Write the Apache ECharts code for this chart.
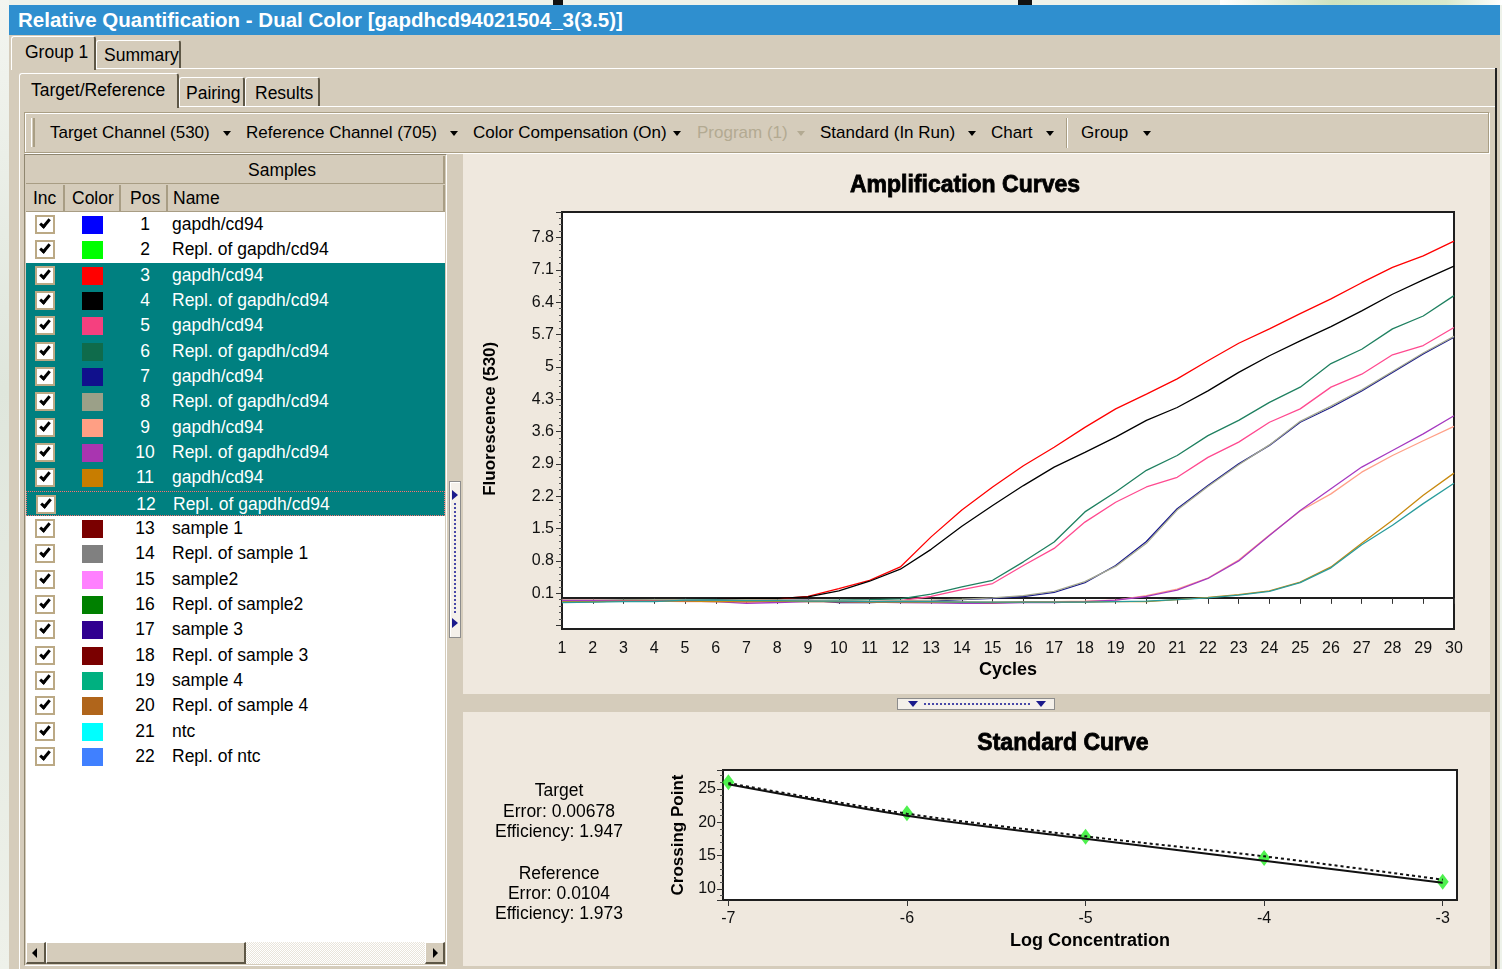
<!DOCTYPE html>
<html>
<head>
<meta charset="utf-8">
<title>Relative Quantification - Dual Color</title>
<script src="https://cdn.jsdelivr.net/npm/echarts@6/dist/echarts.min.js"></script>
<style>
	* { box-sizing: border-box; }
	body {
		margin: 0; width: 1502px; height: 969px; overflow: hidden; position: relative;
		background: #eef2ea;
		font-family: "Liberation Sans", Arial, sans-serif;
		font-size: 17.5px; color: #000;
	}
	.a { position: absolute; white-space: nowrap; }
	.beige { background: #d5ccbb; }
	.titlebar { left: 9px; top: 5px; width: 1491px; height: 30px; background: #2f8fcf; color: #fff;
		font-weight: bold; font-size: 20.5px; line-height: 30px; padding-left: 9px; }
	.tab { background: #d5ccbb; border-top: 1px solid #fff; border-left: 1px solid #fff; border-right: 2px solid #5e5746;
		border-radius: 3px 3px 0 0; line-height: 26px; }
	.tb { top: 121px; height: 24px; line-height: 24px; font-size: 17px; }
	.arr { width: 0; height: 0; border-left: 4px solid transparent; border-right: 4px solid transparent; border-top: 5px solid #000; top: 131px; }
	.hdr { top: 185px; height: 27px; line-height: 27px; background: #d5ccbb; border-right: 2px solid #a89d84;
		border-bottom: 1px solid #a89d84; padding-left: 7px; }
	.row { left: 26px; width: 419px; height: 25.33px; }
	.row.sel { background: #008080; color: #fff; }
	.row.focus { border: 1px dotted #ff7070; }
	.chk { left: 9px; top: 3px; width: 20px; height: 19px; background: #fff; border: 2px solid #bba985; }
	.tick { left: 5px; top: 0px; width: 6px; height: 11px; border-right: 3px solid #000; border-bottom: 3px solid #000; transform: rotate(40deg); }
	.sw { left: 56px; top: 4px; width: 21px; height: 18px; }
	.pos { left: 99px; width: 40px; text-align: center; line-height: 25px; }
	.nm { left: 146px; line-height: 25px; }
	.btn { background: #d5ccbb; border-top: 1px solid #fff; border-left: 1px solid #fff; border-right: 2px solid #5e5746; border-bottom: 2px solid #5e5746; }
	.stat { width: 200px; text-align: center; font-size: 17.5px; line-height: 20px; }
</style>
</head>
<body>
	<!-- desktop behind the window -->
	<div class="a" style="left:0;top:0;width:9px;height:969px;background:linear-gradient(180deg,#f3f5f0,#dfe6dc 40%,#eef1ea)"></div>
	<div class="a" style="left:1220px;top:0;width:282px;height:5px;background:linear-gradient(90deg,#ffffff,#cfe3c0 40%,#d8e9cc 80%,#ffffff)"></div>
	<div class="a" style="left:553px;top:0;width:10px;height:5px;background:#111"></div>
	<div class="a" style="left:1018px;top:0;width:14px;height:5px;background:#111"></div>

	<!-- window -->
	<div class="a beige" style="left:9px;top:5px;width:1491px;height:964px"></div>
	<div class="a titlebar">Relative Quantification - Dual Color [gapdhcd94021504_3(3.5)]</div>

	<!-- tabs level 1 -->
	<div class="a" style="left:11px;top:68px;width:1486px;height:1px;background:#fff"></div>
	<div class="a tab" style="left:96px;top:40px;width:85px;height:28px;padding-left:7px;line-height:28px">Summary</div>
	<div class="a tab" style="left:11px;top:36px;width:85px;height:34px;padding-left:13px;line-height:30px">Group 1</div>
	<div class="a" style="left:1495px;top:68px;width:2px;height:901px;background:#222"></div>

	<!-- tabs level 2 -->
	<div class="a" style="left:19px;top:106px;width:1476px;height:1px;background:#fff"></div>
	<div class="a" style="left:19px;top:106px;width:1px;height:863px;background:#fff"></div>
	<div class="a tab" style="left:179px;top:77px;width:66px;height:29px;padding-left:6px;line-height:30px">Pairing</div>
	<div class="a tab" style="left:245px;top:77px;width:75px;height:29px;padding-left:9px;line-height:30px">Results</div>
	<div class="a tab" style="left:19px;top:73px;width:160px;height:35px;padding-left:11px;line-height:32px">Target/Reference</div>

	<!-- toolbar -->
	<div class="a" style="left:24px;top:112px;width:1465px;height:41px;border:1px solid #a99e84;box-shadow:inset 1px 1px 0 #fff, 1px 1px 0 #fff"></div>
	<div class="a" style="left:31px;top:118px;width:4px;height:29px;border-left:1px solid #fff;border-right:2px solid #a99e84"></div>
	<div class="a tb" style="left:50px">Target Channel (530)</div><div class="a arr" style="left:223px"></div>
	<div class="a tb" style="left:246px">Reference Channel (705)</div><div class="a arr" style="left:450px"></div>
	<div class="a tb" style="left:473px">Color Compensation (On)</div><div class="a arr" style="left:673px"></div>
	<div class="a tb" style="left:697px;color:#b3aa92">Program (1)</div><div class="a arr" style="left:797px;border-top-color:#b3aa92"></div>
	<div class="a tb" style="left:820px">Standard (In Run)</div><div class="a arr" style="left:968px"></div>
	<div class="a tb" style="left:991px">Chart</div><div class="a arr" style="left:1046px"></div>
	<div class="a" style="left:1066px;top:118px;width:2px;height:30px;border-left:1px solid #a99e84;border-right:1px solid #fff"></div>
	<div class="a tb" style="left:1081px">Group</div><div class="a arr" style="left:1143px"></div>

	<!-- samples panel -->
	<div class="a" style="left:24px;top:154px;width:423px;height:812px;border:1px solid #8f866f;border-right-color:#fff;border-bottom-color:#fff"></div>
	<div class="a" style="left:26px;top:156px;width:419px;height:28px;line-height:28px;padding-left:222px;border-bottom:1px solid #a89d84;border-right:2px solid #a89d84">Samples</div>
	<div class="a hdr" style="left:26px;width:39px">Inc</div>
	<div class="a hdr" style="left:65px;width:56px">Color</div>
	<div class="a hdr" style="left:121px;width:47px;padding-left:9px">Pos</div>
	<div class="a hdr" style="left:168px;width:277px;padding-left:5px">Name</div>
	<div class="a" style="left:26px;top:212px;width:419px;height:730px;background:#fff"></div>
	<div id="rows"></div>

	<!-- horizontal scrollbar -->
	<div class="a" style="left:26px;top:942px;width:419px;height:22px;background:repeating-conic-gradient(#e9e4da 0 25%, #fff 0 50%) 0 0/2px 2px"></div>
	<div class="a btn" style="left:26px;top:942px;width:20px;height:22px"></div>
	<div class="a" style="left:32px;top:948px;width:0;height:0;border-top:5px solid transparent;border-bottom:5px solid transparent;border-right:5px solid #000"></div>
	<div class="a btn" style="left:46px;top:942px;width:200px;height:22px"></div>
	<div class="a btn" style="left:425px;top:942px;width:20px;height:22px"></div>
	<div class="a" style="left:433px;top:948px;width:0;height:0;border-top:5px solid transparent;border-bottom:5px solid transparent;border-left:5px solid #000"></div>

	<!-- vertical splitter grip -->
	<div class="a" style="left:449px;top:481px;width:12px;height:157px;background:#f4f0ea;border:1px solid #8c8c8c;box-shadow:inset 1px 1px 0 #fff"></div>
	<div class="a" style="left:452px;top:490px;width:0;height:0;border-top:5px solid transparent;border-bottom:5px solid transparent;border-left:6px solid #1a1a8c"></div>
	<div class="a" style="left:454px;top:503px;width:2px;height:110px;border-left:2px dotted #4848a8"></div>
	<div class="a" style="left:452px;top:618px;width:0;height:0;border-top:5px solid transparent;border-bottom:5px solid transparent;border-left:6px solid #1a1a8c"></div>

	<!-- chart panel -->
	<div class="a" style="left:463px;top:154px;width:1027px;height:812px;background:#efe8de"></div>
	<div class="a beige" style="left:463px;top:694px;width:1027px;height:18px"></div>
	<div class="a" style="left:897px;top:698px;width:158px;height:12px;background:#f4f0ea;border:1px solid #8c8c8c"></div>
	<div class="a" style="left:908px;top:701px;width:0;height:0;border-left:5px solid transparent;border-right:5px solid transparent;border-top:6px solid #1a1a8c"></div>
	<div class="a" style="left:924px;top:703px;width:106px;height:2px;border-top:2px dotted #4848a8"></div>
	<div class="a" style="left:1036px;top:701px;width:0;height:0;border-left:5px solid transparent;border-right:5px solid transparent;border-top:6px solid #1a1a8c"></div>

	<div id="amp" class="a" style="left:463px;top:154px;width:1027px;height:540px"></div>
	<div id="std" class="a" style="left:463px;top:712px;width:1027px;height:253px"></div>

	<div class="a stat" style="left:459px;top:780px">Target</div>
	<div class="a stat" style="left:459px;top:801px">Error: 0.00678</div>
	<div class="a stat" style="left:459px;top:821px">Efficiency: 1.947</div>
	<div class="a stat" style="left:459px;top:863px">Reference</div>
	<div class="a stat" style="left:459px;top:883px">Error: 0.0104</div>
	<div class="a stat" style="left:459px;top:903px">Efficiency: 1.973</div>

<script>
	// ---- sample list ----
	const samplePos = [1, 2, 3, 4, 5, 6, 7, 8, 9, 10, 11, 12, 13, 14, 15, 16, 17, 18, 19, 20, 21, 22];
	const sampleNames = ['gapdh/cd94', 'Repl. of gapdh/cd94', 'gapdh/cd94', 'Repl. of gapdh/cd94', 'gapdh/cd94',
		'Repl. of gapdh/cd94', 'gapdh/cd94', 'Repl. of gapdh/cd94', 'gapdh/cd94', 'Repl. of gapdh/cd94', 'gapdh/cd94',
		'Repl. of gapdh/cd94', 'sample 1', 'Repl. of sample 1', 'sample2', 'Repl. of sample2', 'sample 3',
		'Repl. of sample 3', 'sample 4', 'Repl. of sample 4', 'ntc', 'Repl. of ntc'];
	const sampleColors = ['#0000ff', '#00ff00', '#ff0000', '#000000', '#f5407f', '#0f6b4b', '#10108c', '#9ba088',
		'#ff9f84', '#a935b0', '#c87d00', '', '#7a0000', '#808080', '#ff80ff', '#008000', '#300090', '#7a0000',
		'#00b080', '#b0651b', '#00ffff', '#4080ff'];
	const selectedPos = [3, 4, 5, 6, 7, 8, 9, 10, 11, 12];
	const focusPos = 12;

	let rowsHtml = '';
	samplePos.forEach((p, i) => {
		const cls = 'a row' + (selectedPos.includes(p) ? ' sel' : '') + (p === focusPos ? ' focus' : '');
		rowsHtml += '<div class="' + cls + '" style="top:' + (212 + i * 25.33) + 'px">' +
			'<div class="a chk"><div class="a tick"></div></div>' +
			(sampleColors[i] ? '<div class="a sw" style="background:' + sampleColors[i] + '"></div>' : '') +
			'<div class="a pos">' + p + '</div><div class="a nm">' + sampleNames[i] + '</div></div>';
	});
	document.getElementById('rows').innerHTML = rowsHtml;

	// ---- amplification curves (fluorescence per cycle) ----
	const cycles = [1, 2, 3, 4, 5, 6, 7, 8, 9, 10, 11, 12, 13, 14, 15, 16, 17, 18, 19, 20, 21, 22, 23, 24, 25, 26, 27, 28, 29, 30];
	const fluor3 = [-0.06, -0.06, -0.06, -0.05, -0.05, -0.04, -0.02, -0.02, 0.03, 0.20, 0.38, 0.67, 1.32, 1.90, 2.40, 2.86, 3.26, 3.69, 4.09, 4.41, 4.74, 5.13, 5.51, 5.82, 6.15, 6.47, 6.82, 7.15, 7.40, 7.72];
	const fluor4 = [-0.06, -0.06, -0.05, -0.05, -0.04, -0.03, -0.01, -0.01, 0.02, 0.15, 0.36, 0.62, 1.05, 1.55, 2.00, 2.43, 2.83, 3.15, 3.48, 3.84, 4.12, 4.48, 4.88, 5.24, 5.56, 5.87, 6.21, 6.57, 6.88, 7.18];
	const fluor5 = [-0.05, -0.05, -0.06, -0.06, -0.07, -0.07, -0.09, -0.08, -0.07, -0.08, -0.08, -0.06, 0.03, 0.18, 0.31, 0.70, 1.07, 1.64, 2.07, 2.40, 2.61, 3.04, 3.37, 3.80, 4.09, 4.56, 4.84, 5.26, 5.46, 5.85];
	const fluor6 = [-0.09, -0.08, -0.07, -0.06, -0.04, -0.05, -0.06, -0.05, -0.06, -0.05, -0.04, -0.02, 0.08, 0.24, 0.38, 0.78, 1.21, 1.86, 2.29, 2.76, 3.08, 3.51, 3.84, 4.23, 4.56, 5.07, 5.38, 5.82, 6.10, 6.54];
	const fluor7 = [-0.07, -0.07, -0.07, -0.07, -0.06, -0.06, -0.06, -0.06, -0.05, -0.10, -0.10, -0.08, -0.07, -0.04, -0.01, 0.03, 0.12, 0.33, 0.70, 1.22, 1.93, 2.43, 2.90, 3.30, 3.80, 4.12, 4.48, 4.88, 5.28, 5.64];
	const fluor8 = [-0.05, -0.05, -0.05, -0.04, -0.04, -0.05, -0.04, -0.05, -0.05, -0.06, -0.07, -0.06, -0.05, -0.03, 0.00, 0.05, 0.14, 0.35, 0.68, 1.18, 1.90, 2.41, 2.88, 3.31, 3.82, 4.15, 4.50, 4.90, 5.30, 5.66];
	const fluor9 = [-0.07, -0.07, -0.07, -0.07, -0.08, -0.08, -0.08, -0.07, -0.07, -0.08, -0.08, -0.08, -0.08, -0.09, -0.09, -0.08, -0.08, -0.07, -0.05, 0.05, 0.19, 0.43, 0.82, 1.36, 1.88, 2.25, 2.72, 3.08, 3.40, 3.71];
	const fluor10 = [-0.06, -0.06, -0.06, -0.06, -0.07, -0.08, -0.12, -0.10, -0.08, -0.08, -0.09, -0.10, -0.11, -0.12, -0.12, -0.10, -0.10, -0.08, -0.05, 0.03, 0.17, 0.42, 0.80, 1.35, 1.89, 2.36, 2.83, 3.19, 3.55, 3.94];
	const fluor11 = [-0.08, -0.08, -0.07, -0.07, -0.07, -0.08, -0.08, -0.07, -0.08, -0.08, -0.09, -0.09, -0.09, -0.09, -0.10, -0.09, -0.09, -0.09, -0.08, -0.08, -0.04, 0.01, 0.07, 0.15, 0.34, 0.67, 1.18, 1.68, 2.22, 2.70];
	const fluor12 = [-0.10, -0.09, -0.08, -0.08, -0.05, -0.05, -0.06, -0.06, -0.07, -0.07, -0.08, -0.08, -0.08, -0.09, -0.09, -0.09, -0.09, -0.09, -0.08, -0.07, -0.04, 0.00, 0.06, 0.14, 0.33, 0.65, 1.15, 1.57, 2.04, 2.48];
	const curveColors = ['#ff0000', '#000000', '#ff4a90', '#1f8060', '#16168c', '#a4a890', '#ffa088', '#a63ac0', '#c88a10', '#2a9c9c'];
	const curves = [fluor3, fluor4, fluor5, fluor6, fluor7, fluor8, fluor9, fluor10, fluor11, fluor12];

	// ---- standard curve ----
	const logConc = [-7, -6, -5, -4, -3];
	const crossingPoint = [26.0, 21.35, 17.84, 14.65, 11.1];
	const fitTarget = [25.7, 21.0, 17.55, 14.25, 10.95];
	const fitReference = [25.9, 21.3, 17.9, 14.9, 11.4];

	const font = '"Liberation Sans", Arial, sans-serif';

	let ampChart = echarts.init(document.getElementById('amp'));
	ampChart.setOption({
		animation: false,
		graphic: [{
			type: 'rect', z: -10,
			shape: { x: 99, y: 58, width: 892, height: 417 },
			style: { fill: '#fff', stroke: '#1e1e1e', lineWidth: 2 }
		}, {
			type: 'text', x: 502, y: 32,
			style: { text: 'Amplification Curves', font: 'bold 23px ' + font, fill: '#000', stroke: '#000', lineWidth: 0.8,
				textAlign: 'center', textVerticalAlign: 'middle' }
		}],
		grid: { left: 99, top: 58, width: 892, height: 413.6 },
		xAxis: {
			type: 'value', min: 1, max: 30, interval: 1, offset: 4,
			name: 'Cycles', nameLocation: 'middle', nameGap: 31,
			nameTextStyle: { fontFamily: font, fontWeight: 'bold', fontSize: 18, color: '#000' },
			axisLine: { lineStyle: { color: '#1e1e1e', width: 2 } },
			axisTick: { length: 6, lineStyle: { color: '#333' } },
			axisLabel: { fontFamily: font, fontSize: 16, color: '#111', margin: 11 },
			splitLine: { show: false }
		},
		yAxis: {
			type: 'value', min: -0.6, max: 8.35, interval: 0.7,
			name: 'Fluorescence (530)', nameLocation: 'middle', nameGap: 63,
			nameTextStyle: { fontFamily: font, fontWeight: 'bold', fontSize: 17, color: '#000' },
			axisLine: { show: false },
			axisTick: { length: 6, lineStyle: { color: '#333' } },
			minorTick: { show: true, splitNumber: 5, length: 3, lineStyle: { color: '#555' } },
			axisLabel: { fontFamily: font, fontSize: 16, color: '#111', margin: 8, showMinLabel: false, showMaxLabel: false,
				formatter: v => String(+v.toFixed(1)) },
			splitLine: { show: false }
		},
		series: curves.map((vals, k) => ({
			type: 'line', showSymbol: false, silent: true,
			lineStyle: { width: 1.3, color: curveColors[k] },
			data: cycles.map((c, i) => [c, vals[i]])
		}))
	});

	let stdChart = echarts.init(document.getElementById('std'));
	stdChart.setOption({
		animation: false,
		graphic: [{
			type: 'text', x: 600, y: 32,
			style: { text: 'Standard Curve', font: 'bold 23px ' + font, fill: '#000', stroke: '#000', lineWidth: 0.8,
				textAlign: 'center', textVerticalAlign: 'middle' }
		}],
		grid: { left: 260, top: 58, width: 734, height: 130, show: true, backgroundColor: '#fff', borderColor: '#1e1e1e', borderWidth: 2 },
		xAxis: {
			type: 'value', min: -7.03, max: -2.92, splitNumber: 4,
			name: 'Log Concentration', nameLocation: 'middle', nameGap: 31,
			nameTextStyle: { fontFamily: font, fontWeight: 'bold', fontSize: 18, color: '#000' },
			axisLine: { show: false },
			axisTick: { length: 6, lineStyle: { color: '#333' } },
			axisLabel: { fontFamily: font, fontSize: 16, color: '#111', margin: 11, showMinLabel: false, showMaxLabel: false },
			splitLine: { show: false }
		},
		yAxis: {
			type: 'value', min: 8.35, max: 27.85, splitNumber: 4,
			name: 'Crossing Point', nameLocation: 'middle', nameGap: 30,
			nameTextStyle: { fontFamily: font, fontWeight: 'bold', fontSize: 17, color: '#000' },
			axisLine: { show: false },
			axisTick: { length: 6, lineStyle: { color: '#333' } },
			minorTick: { show: true, splitNumber: 5, length: 3, lineStyle: { color: '#555' } },
			axisLabel: { fontFamily: font, fontSize: 16, color: '#111', margin: 7, showMinLabel: false, showMaxLabel: false },
			splitLine: { show: false }
		},
		series: [{
			type: 'line', showSymbol: false, smooth: 0.3, silent: true,
			lineStyle: { color: '#111', width: 2 },
			data: logConc.map((x, i) => [x, fitTarget[i]])
		}, {
			type: 'line', showSymbol: false, smooth: 0.3, silent: true,
			lineStyle: { color: '#111', width: 2, type: [3, 3] },
			data: logConc.map((x, i) => [x, fitReference[i]])
		}, {
			type: 'scatter', symbol: 'diamond', symbolSize: [12, 16], silent: true,
			itemStyle: { color: '#22ee22' },
			data: logConc.map((x, i) => [x, crossingPoint[i]])
		}]
	});
</script>
</body>
</html>
